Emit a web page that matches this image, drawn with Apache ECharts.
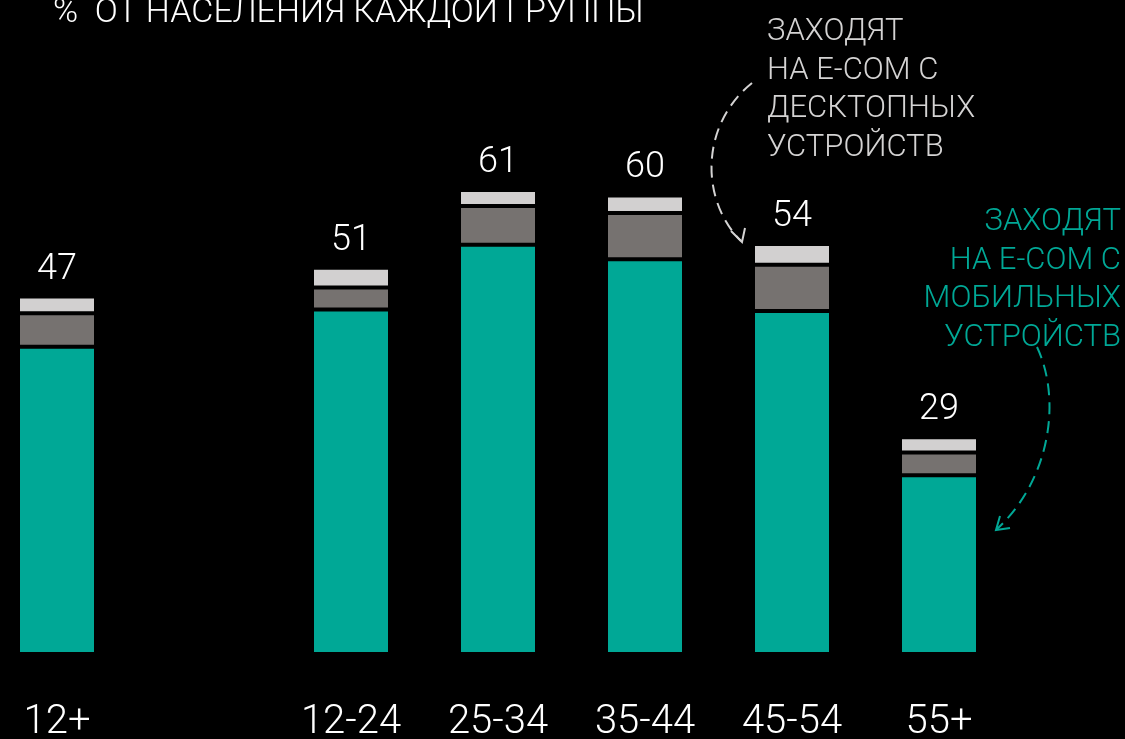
<!DOCTYPE html>
<html>
<head>
<meta charset="utf-8">
<script src="https://cdn.jsdelivr.net/npm/echarts@6/dist/echarts.min.js"></script>
<style>
  html, body { margin: 0; padding: 0; background: #000; }
  #chart { width: 1125px; height: 739px; }
</style>
</head>
<body>
<div id="chart"></div>
<script>
// возрастные группы (пустая категория - разрыв после 12+)
var categories = ['12+', '', '12-24', '25-34', '35-44', '45-54', '55+']
// доли по типу устройств, % от населения группы
var mobileOnly = [40.4, null, 45.3, 53.8, 51.9, 45.1, 23.5]
var bothDevices = [4.4, null, 2.9, 5.1, 6.1, 6.1, 3.0]
var desktopOnly = [2.2, null, 2.6, 2.1, 2.3, 2.7, 2.0]
var totals = [47, null, 51, 61, 60, 54, 29]

var fontName = 'Roboto, "Noto Sans", sans-serif'
var teal = '#00A896'

function getChart() {
    var chartDom = document.getElementById('chart');
    var myChart = echarts.init(chartDom);

    var barStyle = function (color) {
        return {
            color: color,
            borderColor: '#000',
            borderWidth: 2
        }
    }

    var option = {
        backgroundColor: '#000',
        animation: false,
        grid: {
            left: 57,
            right: 186,
            top: 0,
            bottom: 85,
            outerBoundsMode: 'none'
        },
        xAxis: {
            type: 'category',
            data: categories,
            boundaryGap: false,
            axisLine: { show: false },
            axisTick: { show: false },
            axisLabel: {
                color: '#fff',
                fontSize: 40,
                fontWeight: 300,
                fontFamily: fontName,
                margin: 49,
                interval: 0
            }
        },
        yAxis: {
            type: 'value',
            min: 0,
            max: 86,
            show: false,
            splitLine: { show: false }
        },
        series: [
            {
                name: 'мобильные',
                type: 'bar',
                stack: 'all',
                barWidth: 78,
                clip: false,
                itemStyle: barStyle(teal),
                data: mobileOnly
            },
            {
                name: 'оба',
                type: 'bar',
                stack: 'all',
                barWidth: 78,
                clip: false,
                itemStyle: barStyle('#767270'),
                data: bothDevices
            },
            {
                name: 'десктоп',
                type: 'bar',
                stack: 'all',
                barWidth: 78,
                clip: false,
                itemStyle: barStyle('#D2D0D0'),
                label: {
                    show: true,
                    position: 'top',
                    distance: 9,
                    color: '#fff',
                    fontSize: 36,
                    fontWeight: 300,
                    fontFamily: fontName,
                    formatter: function (p) {
                        return totals[p.dataIndex] == null ? '' : totals[p.dataIndex]
                    }
                },
                data: desktopOnly
            }
        ],
        graphic: [
            {
                type: 'text',
                left: 53,
                top: -4,
                style: {
                    text: '%  ОТ НАСЕЛЕНИЯ КАЖДОЙ ГРУППЫ',
                    fill: '#fff',
                    fontSize: 34,
                    fontWeight: 300,
                    fontFamily: fontName
                }
            },
            {
                type: 'text',
                x: 767,
                y: 13,
                style: {
                    text: 'ЗАХОДЯТ\nНА E-COM С\nДЕСКТОПНЫХ\nУСТРОЙСТВ',
                    fill: '#D4D3D3',
                    fontSize: 31,
                    lineHeight: 38.5,
                    fontWeight: 300,
                    fontFamily: fontName,
                    verticalAlign: 'top'
                }
            },
            {
                type: 'text',
                x: 1121,
                y: 203,
                style: {
                    text: 'ЗАХОДЯТ\nНА E-COM С\nМОБИЛЬНЫХ\nУСТРОЙСТВ',
                    fill: teal,
                    fontSize: 31,
                    lineHeight: 38.5,
                    fontWeight: 300,
                    fontFamily: fontName,
                    align: 'right',
                    verticalAlign: 'top'
                }
            },
            // стрелки
            {
                type: 'bezierCurve',
                shape: { x1: 752, y1: 83, cpx1: 700, cpy1: 125, cpx2: 700, cpy2: 200, x2: 741, y2: 241 },
                style: { stroke: '#D4D3D3', lineWidth: 2, lineDash: [12, 7], fill: null }
            },
            {
                type: 'polyline',
                shape: { points: [[731, 231], [742, 242], [745, 228]] },
                style: { stroke: '#D4D3D3', lineWidth: 2, fill: null }
            },
            {
                type: 'bezierCurve',
                shape: { x1: 1037, y1: 347, cpx1: 1062, cpy1: 400, cpx2: 1050, cpy2: 480, x2: 997, y2: 529 },
                style: { stroke: teal, lineWidth: 2, lineDash: [12, 7], fill: null }
            },
            {
                type: 'polyline',
                shape: { points: [[1000, 516], [996, 530], [1010, 528]] },
                style: { stroke: teal, lineWidth: 2, fill: null }
            }
        ]
    };

    myChart.setOption(option);
}

getChart()
</script>
</body>
</html>
